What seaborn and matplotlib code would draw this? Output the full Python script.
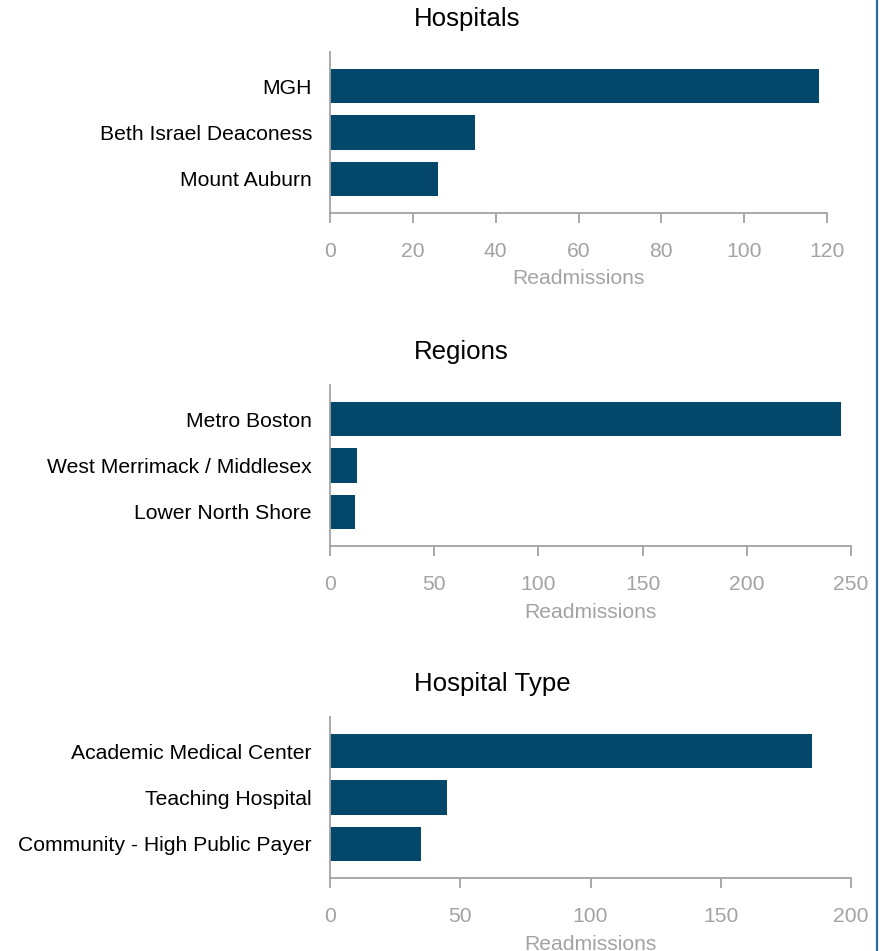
import seaborn as sns
import matplotlib.pyplot as plt
from matplotlib.lines import Line2D

# values
hospitals = ['MGH', 'Beth Israel Deaconess', 'Mount Auburn']
hospital_counts = [118, 35, 26]

regions = ['Metro Boston', 'West Merrimack / Middlesex', 'Lower North Shore']
region_counts = [245, 13, 12]

hospital_types = ['Academic Medical Center', 'Teaching Hospital', 'Community - High Public Payer']
type_counts = [185, 45, 35]

titles = ['Hospitals', 'Regions', 'Hospital Type']
x_ticks = [list(range(0, 121, 20)), list(range(0, 251, 50)), list(range(0, 201, 50))]

BAR = '#03476b'
GRAY = '#a3a3a3'

sns.set_style('white')
plt.rcParams['font.family'] = ['Liberation Sans', 'DejaVu Sans']

W, H = 888, 951
fig = plt.figure(figsize=(W / 100, H / 100), dpi=100)

# axes boxes in pixels: left, top, right, bottom
boxes = [(330, 52, 827, 213), (330, 385, 851, 546), (330, 717, 851, 878)]
panels = [(hospitals, hospital_counts), (regions, region_counts), (hospital_types, type_counts)]

for (l, t, r, b), (cats, vals), title, ticks in zip(boxes, panels, titles, x_ticks):
    ax = fig.add_axes([l / W, 1 - b / H, (r - l) / W, (b - t) / H])
    sns.barplot(x=vals, y=cats, orient='h', color=BAR, saturation=1, width=0.74,
                linewidth=0, ax=ax)
    ax.set_ylim(2.74, -0.74)
    ax.set_xlim(ticks[0], ticks[-1])
    ax.set_xticks(ticks)
    for s in ['top', 'right']:
        ax.spines[s].set_visible(False)
    for s in ['left', 'bottom']:
        ax.spines[s].set_color(GRAY)
        ax.spines[s].set_linewidth(1.3)
    ax.tick_params(axis='x', bottom=True, colors=GRAY, labelsize=15.2, length=7,
                   width=1.3, pad=14)
    ax.tick_params(axis='y', left=False, length=0, labelcolor='black', labelsize=15.2, pad=13)
    ax.set_xlabel('Readmissions', color=GRAY, fontsize=15.2, labelpad=6)
    ax.set_ylabel('')
    fig.text(414 / W, 1 - (t - 33) / H, title, fontsize=18.6, ha='left', va='center', color='black')

# blue border on the right
fig.add_artist(Line2D([877 / W, 877 / W], [0, 1], color='#2a6c9c', linewidth=1.6))

fig.savefig('out.png', dpi=100)
